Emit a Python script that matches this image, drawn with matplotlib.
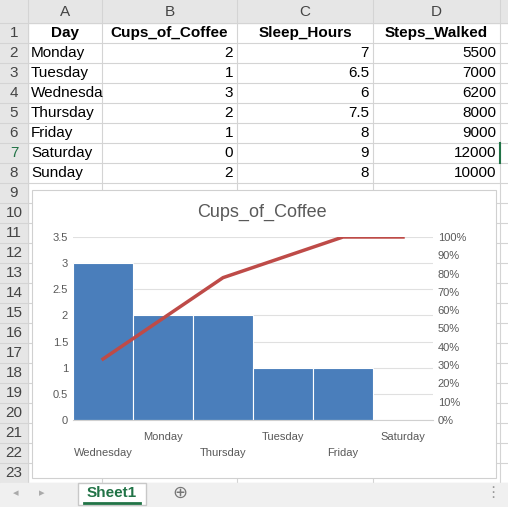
import matplotlib.pyplot as plt
from matplotlib.patches import Rectangle
import numpy as np

plt.rcParams['font.family'] = ['Liberation Sans', 'DejaVu Sans']

days = ["Monday", "Tuesday", "Wednesday", "Thursday", "Friday", "Saturday", "Sunday"]
cups = [2, 1, 3, 2, 1, 0, 2]
sleep = ["7", "6.5", "6", "7.5", "8", "9", "8"]
steps = [5500, 7000, 6200, 8000, 9000, 12000, 10000]
headers = ["Day", "Cups_of_Coffee", "Sleep_Hours", "Steps_Walked"]

# pareto uses rows 2-7 (sorted descending)
p_cats = ["Wednesday", "Monday", "Thursday", "Tuesday", "Friday", "Saturday"]
p_vals = [3, 2, 2, 1, 1, 0]

W, H = 508, 507
fig = plt.figure(figsize=(W / 100, H / 100), dpi=100)
bg = fig.add_axes([0, 0, 1, 1])
bg.set_xlim(0, W)
bg.set_ylim(H, 0)
bg.axis('off')

cols = [0, 28, 102, 237, 373, 500, 508]
grid = '#d4d4d4'
# column header strip
bg.add_patch(Rectangle((0, 0), W, 23, color='#e6e6e6'))
bg.add_patch(Rectangle((0, 23), 28, 460, color='#e6e6e6'))
for i, c in enumerate("ABCD"):
    bg.text((cols[i + 1] + cols[i + 2]) / 2, 12, c, ha='center', va='center', fontsize=11, color='#444')
for x in cols[1:-1]:
    bg.plot([x, x], [0, 483], color=grid, lw=0.8)
for r in range(24):
    y = 23 + 20 * r
    bg.plot([0, W], [y, y], color=grid, lw=0.8)
for r in range(1, 24):
    yc = 33 + 20 * (r - 1)
    bg.text(14, yc, str(r), ha='center', va='center', fontsize=11,
            color='#217346' if r == 7 else '#444')

for i, h in enumerate(headers):
    bg.text((cols[i + 1] + cols[i + 2]) / 2, 33, h, ha='center', va='center', fontsize=11, fontweight='bold')
for j in range(7):
    yc = 53 + 20 * j
    bg.text(31, yc, days[j] if days[j] != "Wednesday" else "Wednesda", ha='left', va='center', fontsize=11)
    bg.text(233, yc, str(cups[j]), ha='right', va='center', fontsize=11)
    bg.text(369, yc, sleep[j], ha='right', va='center', fontsize=11)
    bg.text(496, yc, str(steps[j]), ha='right', va='center', fontsize=11)
bg.plot([500, 500], [143, 163], color='#217346', lw=1.5)

# chart box
bg.add_patch(Rectangle((32, 190), 464, 288, facecolor='white', edgecolor='#d0d0d0', lw=0.8, zorder=3))
bg.text(262, 212, "Cups_of_Coffee", ha='center', va='center', fontsize=13, color='#595959', zorder=4)

# sheet tab bar
bg.add_patch(Rectangle((0, 483), W, 24, color='#f0f0f0', zorder=3))
bg.add_patch(Rectangle((78, 483), 68, 22, facecolor='white', edgecolor='#c8c8c8', zorder=4))
bg.plot([84, 140], [503, 503], color='#217346', lw=2, zorder=5)
bg.text(112, 493, "Sheet1", ha='center', va='center', fontsize=11, fontweight='bold', color='#217346', zorder=5)
bg.text(180, 493, "⊕", ha='center', va='center', fontsize=13, color='#777', zorder=5)
bg.text(16, 493, "◂", ha='center', va='center', fontsize=8, color='#aaa', zorder=5)
bg.text(42, 493, "▸", ha='center', va='center', fontsize=8, color='#aaa', zorder=5)
bg.text(493, 493, "⋮", ha='center', va='center', fontsize=11, color='#999', zorder=5)

# chart axes
x0, x1, ytop, ybot = 73, 433, 237, 420
ax = fig.add_axes([x0 / W, 1 - ybot / H, (x1 - x0) / W, (ybot - ytop) / H], zorder=5)
ax.patch.set_alpha(0)
n = len(p_vals)
xs = np.arange(n)
ax.bar(xs, p_vals, width=1.0, color='#4a7ebb', edgecolor='white', lw=0.8, zorder=2)
ax.set_xlim(-0.5, n - 0.5)
ax.set_ylim(0, 3.5)
ax.set_yticks(np.arange(0, 3.6, 0.5))
ax.set_yticklabels(["0", "0.5", "1", "1.5", "2", "2.5", "3", "3.5"], fontsize=8, color='#595959')
ax.grid(axis='y', color='#e0e0e0', lw=0.8, zorder=0)
for s in ax.spines.values():
    s.set_visible(False)
ax.spines['bottom'].set_visible(True)
ax.spines['bottom'].set_color('#d0d0d0')
ax.tick_params(length=0)
ax.set_xticks(xs)
ax.set_xticklabels([""] * n)
for i, c in enumerate(p_cats):
    ax.annotate(c, (i, 0), xytext=(0, -20 if i % 2 == 0 else -8.5), textcoords='offset points',
                ha='center', va='top', fontsize=8, color='#595959', annotation_clip=False)

cum = np.cumsum(p_vals) / sum(p_vals)
ax2 = ax.twinx()
ax2.plot(xs, cum, color='#be4b48', lw=2.5, zorder=3)
ax2.set_ylim(0, 1)
ax2.set_yticks(np.arange(0, 1.01, 0.1))
ax2.set_yticklabels([f"{int(round(v * 100))}%" for v in np.arange(0, 1.01, 0.1)], fontsize=8, color='#595959')
ax2.tick_params(length=0)
for s in ax2.spines.values():
    s.set_visible(False)

fig.savefig("out.png", dpi=100)
